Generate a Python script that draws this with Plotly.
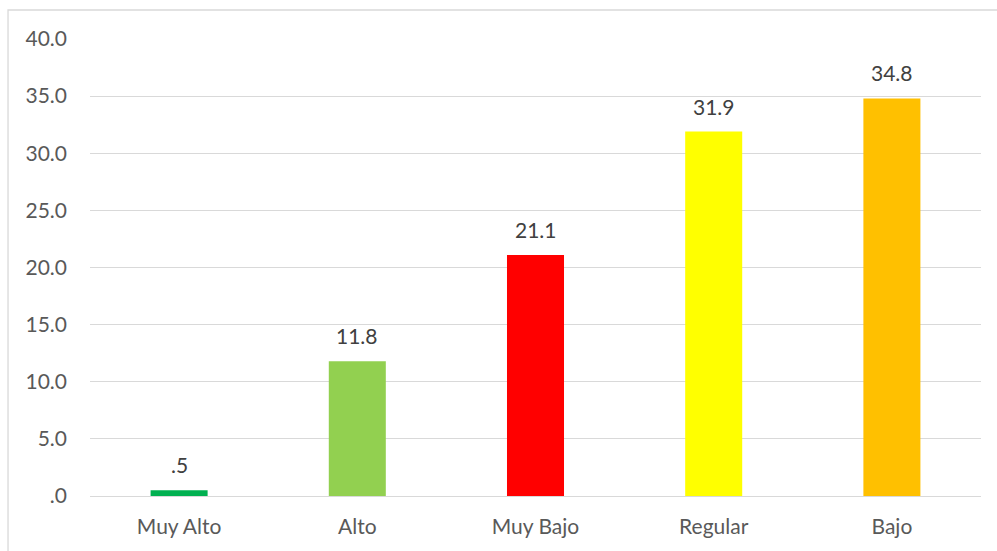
import plotly.graph_objects as go

# Niveles y porcentajes
categorias = ["Muy Alto", "Alto", "Muy Bajo", "Regular", "Bajo"]
valores = [0.5, 11.8, 21.1, 31.9, 34.8]
colores = ["#00B050", "#92D050", "#FF0000", "#FFFF00", "#FFC000"]

tick_vals = [0, 5, 10, 15, 20, 25, 30, 35, 40]


def fmt(v):
    # formato "#.0": sin cero inicial
    s = f"{v:.1f}"
    return s[1:] if s.startswith("0") else s


tick_text = [fmt(v) for v in tick_vals]
etiquetas = [fmt(v) for v in valores]

FONT = "Lato, Carlito, 'Open Sans', sans-serif"
SIZE = 21

fig = go.Figure(
    go.Bar(
        x=categorias,
        y=valores,
        marker=dict(color=colores, line=dict(width=0)),
        width=0.32,
        hoverinfo="x+y",
    )
)

# etiquetas de datos sobre cada barra
for cat, val, txt in zip(categorias, valores, etiquetas):
    fig.add_annotation(
        x=cat,
        y=val,
        text=txt,
        showarrow=False,
        yanchor="bottom",
        yshift=11,
        font=dict(family=FONT, size=SIZE, color="#404040"),
    )

fig.update_layout(
    width=997,
    height=551,
    margin=dict(l=90, r=16, t=39, b=55),
    paper_bgcolor="white",
    plot_bgcolor="white",
    showlegend=False,
    font=dict(family=FONT, size=SIZE, color="#595959"),
    xaxis=dict(
        showgrid=False,
        showline=False,
        ticks="",
        tickfont=dict(family=FONT, size=SIZE, color="#595959"),
        ticklabelstandoff=16,
    ),
    yaxis=dict(
        range=[0, 40],
        tickvals=tick_vals,
        ticktext=tick_text,
        showgrid=True,
        gridcolor="#D9D9D9",
        gridwidth=1.3,
        zeroline=True,
        zerolinecolor="#D9D9D9",
        zerolinewidth=1.3,
        showline=False,
        ticks="",
        tickfont=dict(family=FONT, size=SIZE, color="#595959"),
        ticklabelstandoff=22,
    ),
    shapes=[
        dict(
            type="rect",
            xref="paper",
            yref="paper",
            x0=-0.092,
            x1=1.05,
            y0=-0.3,
            y1=1.0635,
            line=dict(color="#D9D9D9", width=1.3),
            fillcolor="rgba(0,0,0,0)",
            layer="below",
        )
    ],
)

fig.write_html("out.html")
